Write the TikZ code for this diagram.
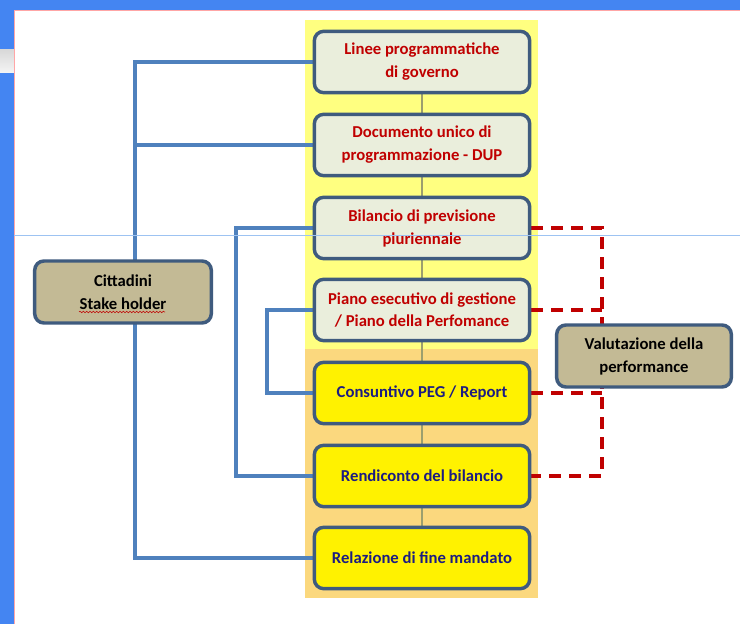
\documentclass[tikz,border=0pt]{standalone}
\usepackage{fontspec}
\setmainfont{Carlito}
\usetikzlibrary{decorations.pathmorphing}
\definecolor{slideblue}{HTML}{4485F2}
\definecolor{boxedge}{HTML}{3F5B7E}
\definecolor{paleface}{HTML}{EAEEDC}
\definecolor{darkred}{HTML}{C00000}
\definecolor{navy}{HTML}{1C1C82}
\definecolor{tan}{HTML}{C3BA95}
\definecolor{linkblue}{HTML}{4F81BD}
\definecolor{softyellow}{HTML}{FFFF80}
\definecolor{softorange}{HTML}{FBD87E}
\definecolor{spinegray}{HTML}{9C9F6E}
\definecolor{guideblue}{HTML}{9DC3F2}
\pgfdeclarelayer{back}
\pgfdeclarelayer{mid}
\pgfsetlayers{back,mid,main}
\begin{document}
\begin{tikzpicture}[x=0.75pt,y=-0.75pt,
  box/.style={draw=boxedge,line width=2.6pt,rounded corners=7pt,minimum width=161.5pt,minimum height=46pt,align=center,font=\fontsize{12.5}{17.2}\selectfont\bfseries},
  plan/.style={box,fill=paleface,text=darkred},
  report/.style={box,fill=yellow,text=navy},
  actor/.style={box,fill=tan,text=black,minimum width=132.5pt,minimum height=46.5pt},
  link/.style={draw=linkblue,line width=2.8pt},
  check/.style={draw=darkred,line width=3pt,dash pattern=on 9pt off 6pt},
  spine/.style={draw=spinegray,line width=1.6pt}]
  \useasboundingbox (0,0) rectangle (740,624);
  \begin{pgfonlayer}{back}
    % slide frame
    \fill[white] (0,0) rectangle (740,624);
    \fill[slideblue] (0,0) rectangle (740,10);
    \fill[slideblue] (0,0) rectangle (14,624);
    \shade[top color=gray!30,bottom color=gray!8] (0,50) rectangle (14,73);
    \draw[red!35,line width=0.6pt] (14.5,624) -- (14.5,10.5) -- (740,10.5);
    \fill[softyellow] (305,20) rectangle (538,349);
    \fill[softorange] (305,349) rectangle (538,598);
  \end{pgfonlayer}
  % boxes
  \node[plan] (linee) at (422,62) {Linee programmatiche\\di governo};
  \node[plan] (dup) at (422,145) {Documento unico di\\programmazione - DUP};
  \node[plan] (bilancio) at (422,228) {Bilancio di previsione\\pluriennale};
  \node[plan] (peg) at (422,310) {Piano esecutivo di gestione\\/ Piano della Perfomance};
  \node[report] (consuntivo) at (422,393) {Consuntivo PEG / Report};
  \node[report] (rendiconto) at (422,476) {Rendiconto del bilancio};
  \node[report] (relazione) at (422,558) {Relazione di fine mandato};
  \node[actor] (cittadini) at (123,292) {Cittadini\\Stake holder};
  \node[actor,minimum width=131pt] (valutazione) at (644,356) {Valutazione della\\performance};
  \coordinate (outer) at (135,0);
  \coordinate (middle) at (236,0);
  \coordinate (inner) at (267,0);
  \coordinate (dashx) at (602,0);
  % connectors
  \begin{pgfonlayer}{mid}
    \draw[spine] (linee) -- (relazione);
    \draw[link] (linee.west) -| (outer |- relazione) -- (relazione.west);
    \draw[link] (dup.west) -- (dup.west -| outer);
    \draw[link] (bilancio.west) -| (middle |- rendiconto) -- (rendiconto.west);
    \draw[link] (peg.west) -| (inner |- consuntivo) -- (consuntivo.west);
    \draw[check] (bilancio.east) -| (dashx |- rendiconto) -- (rendiconto.east);
    \draw[check] (peg.east) -- (peg.east -| dashx);
    \draw[check] (consuntivo.east) -- (consuntivo.east -| dashx);
  \end{pgfonlayer}
  % spell check mark and guide line
  \draw[darkred,line width=0.4pt,decorate,decoration={snake,amplitude=0.6pt,segment length=2.5pt}] (79,312) -- (165,312);
  \draw[guideblue,line width=0.75pt] (14,236) -- (740,236);
\end{tikzpicture}
\end{document}
